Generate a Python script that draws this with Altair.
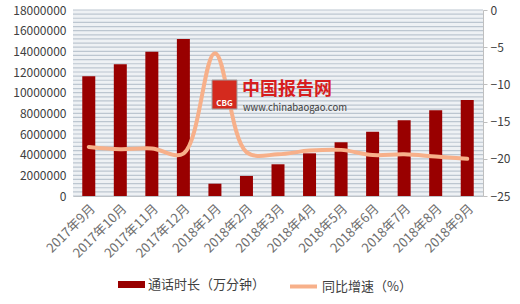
import altair as alt
import pandas as pd

months = ["2017年9月", "2017年10月", "2017年11月", "2017年12月", "2018年1月", "2018年2月",
          "2018年3月", "2018年4月", "2018年5月", "2018年6月", "2018年7月", "2018年8月", "2018年9月"]
duration = [11600000, 12750000, 13970000, 15200000, 1190000, 1940000, 3070000,
            4130000, 5200000, 6220000, 7320000, 8290000, 9290000]
growth = [-18.4, -18.7, -18.6, -19.3, -5.8, -19.1, -19.4, -18.9, -18.8, -19.5, -19.4, -19.7, -20.0]

bar_name = "通话时长（万分钟）"
line_name = "同比增速（%）"

df = pd.DataFrame({"month": months, "duration": duration, "growth": growth,
                   "s1": bar_name, "s2": line_name})

FONT = "Noto Sans CJK SC"
W, H = 410, 186

xenc = alt.X("month:N", sort=months, title=None,
             scale=alt.Scale(paddingInner=0.58, paddingOuter=0.29),
             axis=alt.Axis(labelAngle=-45, labelFontSize=13, labelColor="#6e6e6e",
                           labelFont=FONT, ticks=False, domainColor="#bfbfbf",
                           labelPadding=6, grid=False))

stripes = alt.Chart(alt.sequence(0, 18000001, 400000, as_="v")).mark_rule(
    color="#bcc6d0", strokeWidth=1.2
).encode(y=alt.Y("v:Q", scale=alt.Scale(domain=[0, 18000000]), axis=None))

bars = alt.Chart(df).mark_bar(size=13).encode(
    x=xenc,
    y=alt.Y("duration:Q", title=None,
            scale=alt.Scale(domain=[0, 18000000], nice=False),
            axis=alt.Axis(orient="left", values=list(range(0, 18000001, 2000000)),
                          format="d", ticks=False, domain=False, grid=False,
                          labelFontSize=12, labelColor="#404040", labelFont=FONT,
                          labelPadding=7)),
    color=alt.Color("s1:N", scale=alt.Scale(domain=[bar_name], range=["#990000"]),
                    legend=alt.Legend(title=None, orient="none", legendX=45, legendY=261,
                                      symbolType="M-1,-0.26H1V0.26H-1Z", symbolSize=729,
                                      symbolStrokeWidth=0, labelFontSize=13,
                                      labelColor="#404040", labelFont=FONT,
                                      labelOffset=3, padding=0)),
)

line = alt.Chart(df).mark_line(interpolate="catmull-rom", strokeWidth=4, strokeCap="round").encode(
    x=xenc,
    y=alt.Y("growth:Q", title=None,
            scale=alt.Scale(domain=[-25, 0], nice=False),
            axis=alt.Axis(orient="right", values=[0, -5, -10, -15, -20, -25],
                          ticks=True, tickSize=4, tickColor="#bfbfbf", domain=True,
                          domainColor="#bfbfbf", grid=False, labelFontSize=12,
                          labelColor="#404040", labelFont=FONT, labelPadding=3)),
    color=alt.Color("s2:N", scale=alt.Scale(domain=[line_name], range=["#f7b08a"]),
                    legend=alt.Legend(title=None, orient="none", legendX=215, legendY=261,
                                      symbolType="stroke", symbolSize=729,
                                      symbolStrokeWidth=4, labelFontSize=13,
                                      labelColor="#404040", labelFont=FONT,
                                      labelOffset=3, padding=0)),
)

one = alt.Data(values=[{"a": 1}])
logo = alt.Chart(one).mark_rect(color="#d42a1e", stroke="#a0a0a0", strokeWidth=1).encode(
    x=alt.value(139), x2=alt.value(164), y=alt.value(70), y2=alt.value(99))
logo_txt = alt.Chart(one).mark_text(text="CBG", fontSize=8, color="white", font=FONT,
                                    fontWeight="bold").encode(
    x=alt.value(151.5), y=alt.value(94))
wm1 = alt.Chart(one).mark_text(text="中国报告网", fontSize=18, color="#d71e1e", font=FONT,
                               fontWeight="bold", align="left", baseline="middle").encode(
    x=alt.value(169), y=alt.value(80))
wm2 = alt.Chart(one).mark_text(text="www.chinabaogao.com", fontSize=9.5, color="#404040",
                               font=FONT, align="left", baseline="middle").encode(
    x=alt.value(170), y=alt.value(97.5))

chart = alt.layer(stripes, bars, line, logo, logo_txt, wm1, wm2).resolve_scale(
    y="independent", color="independent"
).resolve_legend(color="independent").properties(
    width=W, height=H,
    padding={"left": 73, "top": 10, "right": 37, "bottom": 108},
    autosize=alt.AutoSizeParams(type="none"),
    background="white",
).configure_view(fill="#eef1f4", stroke=None)

chart.save("out.html", embed_options={"renderer": "svg", "actions": False})
